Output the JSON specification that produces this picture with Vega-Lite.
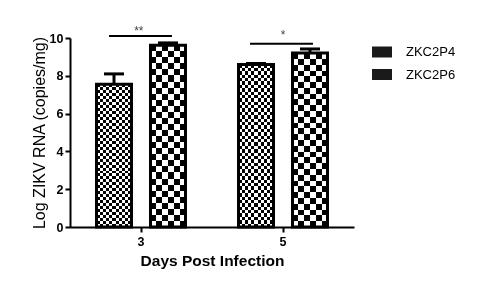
{
  "$schema": "https://vega.github.io/schema/vega-lite/v6.json",
  "width": 284,
  "height": 189,
  "autosize": "none",
  "padding": {"left": 70, "top": 38, "right": 132, "bottom": 62},
  "background": "white",
  "config": {
    "view": {"stroke": null},
    "font": "Liberation Sans",
    "axisY": {
      "grid": false, "tickSize": 5, "tickWidth": 2,
      "domainWidth": 2, "domainColor": "#000", "tickColor": "#000", "labelColor": "#000",
      "labelFont": "Liberation Sans", "labelFontWeight": "bold", "labelFontSize": 12.5,
      "labelPadding": 2, "titleFont": "Liberation Sans", "titleFontSize": 16,
      "titleFontWeight": "normal", "titleColor": "#000", "titlePadding": 2
    }
  },
  "datasets": {
    "bars": [
      {"day": "3", "series": "ZKC2P4", "mean": 7.55, "upper": 8.1},
      {"day": "3", "series": "ZKC2P6", "mean": 9.62, "upper": 9.74},
      {"day": "5", "series": "ZKC2P4", "mean": 8.6, "upper": 8.65},
      {"day": "5", "series": "ZKC2P6", "mean": 9.2, "upper": 9.42}
    ],
    "sig": [
      {"x1": 0.275, "x2": 0.718, "y": 10.1, "xt": 0.485, "yt": 10.38, "label": "**"},
      {"x1": 1.268, "x2": 1.711, "y": 9.7, "xt": 1.5, "yt": 10.17, "label": "*"}
    ]
  },
  "layer": [
    {
      "data": {"name": "bars"},
      "encoding": {
        "x": {
          "field": "day", "type": "nominal",
          "scale": {"domain": ["3", "5"], "paddingInner": 0, "paddingOuter": 0},
          "title": "Days Post Infection",
          "axis": {
            "labelAngle": 0, "tickSize": 5, "tickWidth": 2, "domainWidth": 2,
            "domainColor": "#000", "tickColor": "#000", "labelColor": "#000",
            "labelFont": "Liberation Sans", "labelFontWeight": "bold", "labelFontSize": 12.5,
            "labelPadding": 3, "titleFont": "Liberation Sans", "titleFontSize": 15.5,
            "titleFontWeight": "bold", "titleColor": "#000", "titlePadding": 6
          }
        },
        "xOffset": {
          "field": "series", "type": "nominal",
          "scale": {"domain": ["ZKC2P4", "ZKC2P6"], "paddingInner": 0.352, "paddingOuter": 0.491}
        },
        "y": {
          "field": "mean", "type": "quantitative",
          "scale": {"domain": [0, 10]},
          "title": "Log ZIKV RNA (copies/mg)",
          "axis": {"values": [0, 2, 4, 6, 8, 10], "title": "Log ZIKV RNA (copies/mg)"}
        }
      },
      "layer": [
        {
          "mark": {"type": "bar"},
          "encoding": {
            "fill": {
              "condition": {
                "test": "datum.series === 'ZKC2P4'",
                "value": {"gradient": "linear", "x1": 0, "y1": 0, "x2": 1, "y2": 0, "stops": [
                  {"offset": 0, "color": "#000"}, {"offset": 0.0909, "color": "#000"},
                  {"offset": 0.0909, "color": "#fff"}, {"offset": 0.1818, "color": "#fff"},
                  {"offset": 0.1818, "color": "#000"}, {"offset": 0.2727, "color": "#000"},
                  {"offset": 0.2727, "color": "#fff"}, {"offset": 0.3636, "color": "#fff"},
                  {"offset": 0.3636, "color": "#000"}, {"offset": 0.4545, "color": "#000"},
                  {"offset": 0.4545, "color": "#fff"}, {"offset": 0.5455, "color": "#fff"},
                  {"offset": 0.5455, "color": "#000"}, {"offset": 0.6364, "color": "#000"},
                  {"offset": 0.6364, "color": "#fff"}, {"offset": 0.7273, "color": "#fff"},
                  {"offset": 0.7273, "color": "#000"}, {"offset": 0.8182, "color": "#000"},
                  {"offset": 0.8182, "color": "#fff"}, {"offset": 0.9091, "color": "#fff"},
                  {"offset": 0.9091, "color": "#000"}, {"offset": 1, "color": "#000"}
                ]}
              },
              "value": {"gradient": "linear", "x1": 0, "y1": 0, "x2": 1, "y2": 0, "stops": [
                {"offset": 0, "color": "#000"}, {"offset": 0.1667, "color": "#000"},
                {"offset": 0.1667, "color": "#fff"}, {"offset": 0.3333, "color": "#fff"},
                {"offset": 0.3333, "color": "#000"}, {"offset": 0.5, "color": "#000"},
                {"offset": 0.5, "color": "#fff"}, {"offset": 0.6667, "color": "#fff"},
                {"offset": 0.6667, "color": "#000"}, {"offset": 0.8333, "color": "#000"},
                {"offset": 0.8333, "color": "#fff"}, {"offset": 1, "color": "#fff"}
              ]}
            }
          }
        },
        {
          "mark": {"type": "bar", "blend": "difference"},
          "encoding": {
            "fill": {
              "condition": {
                "test": "datum.series === 'ZKC2P4'",
                "value": {"gradient": "linear", "x1": 0, "y1": 0, "x2": 0, "y2": 1, "stops": [
                  {"offset": 0, "color": "#000"}, {"offset": 0.0208, "color": "#000"},
                  {"offset": 0.0208, "color": "#fff"}, {"offset": 0.0417, "color": "#fff"},
                  {"offset": 0.0417, "color": "#000"}, {"offset": 0.0625, "color": "#000"},
                  {"offset": 0.0625, "color": "#fff"}, {"offset": 0.0833, "color": "#fff"},
                  {"offset": 0.0833, "color": "#000"}, {"offset": 0.1042, "color": "#000"},
                  {"offset": 0.1042, "color": "#fff"}, {"offset": 0.125, "color": "#fff"},
                  {"offset": 0.125, "color": "#000"}, {"offset": 0.1458, "color": "#000"},
                  {"offset": 0.1458, "color": "#fff"}, {"offset": 0.1667, "color": "#fff"},
                  {"offset": 0.1667, "color": "#000"}, {"offset": 0.1875, "color": "#000"},
                  {"offset": 0.1875, "color": "#fff"}, {"offset": 0.2083, "color": "#fff"},
                  {"offset": 0.2083, "color": "#000"}, {"offset": 0.2292, "color": "#000"},
                  {"offset": 0.2292, "color": "#fff"}, {"offset": 0.25, "color": "#fff"},
                  {"offset": 0.25, "color": "#000"}, {"offset": 0.2708, "color": "#000"},
                  {"offset": 0.2708, "color": "#fff"}, {"offset": 0.2917, "color": "#fff"},
                  {"offset": 0.2917, "color": "#000"}, {"offset": 0.3125, "color": "#000"},
                  {"offset": 0.3125, "color": "#fff"}, {"offset": 0.3333, "color": "#fff"},
                  {"offset": 0.3333, "color": "#000"}, {"offset": 0.3542, "color": "#000"},
                  {"offset": 0.3542, "color": "#fff"}, {"offset": 0.375, "color": "#fff"},
                  {"offset": 0.375, "color": "#000"}, {"offset": 0.3958, "color": "#000"},
                  {"offset": 0.3958, "color": "#fff"}, {"offset": 0.4167, "color": "#fff"},
                  {"offset": 0.4167, "color": "#000"}, {"offset": 0.4375, "color": "#000"},
                  {"offset": 0.4375, "color": "#fff"}, {"offset": 0.4583, "color": "#fff"},
                  {"offset": 0.4583, "color": "#000"}, {"offset": 0.4792, "color": "#000"},
                  {"offset": 0.4792, "color": "#fff"}, {"offset": 0.5, "color": "#fff"},
                  {"offset": 0.5, "color": "#000"}, {"offset": 0.5208, "color": "#000"},
                  {"offset": 0.5208, "color": "#fff"}, {"offset": 0.5417, "color": "#fff"},
                  {"offset": 0.5417, "color": "#000"}, {"offset": 0.5625, "color": "#000"},
                  {"offset": 0.5625, "color": "#fff"}, {"offset": 0.5833, "color": "#fff"},
                  {"offset": 0.5833, "color": "#000"}, {"offset": 0.6042, "color": "#000"},
                  {"offset": 0.6042, "color": "#fff"}, {"offset": 0.625, "color": "#fff"},
                  {"offset": 0.625, "color": "#000"}, {"offset": 0.6458, "color": "#000"},
                  {"offset": 0.6458, "color": "#fff"}, {"offset": 0.6667, "color": "#fff"},
                  {"offset": 0.6667, "color": "#000"}, {"offset": 0.6875, "color": "#000"},
                  {"offset": 0.6875, "color": "#fff"}, {"offset": 0.7083, "color": "#fff"},
                  {"offset": 0.7083, "color": "#000"}, {"offset": 0.7292, "color": "#000"},
                  {"offset": 0.7292, "color": "#fff"}, {"offset": 0.75, "color": "#fff"},
                  {"offset": 0.75, "color": "#000"}, {"offset": 0.7708, "color": "#000"},
                  {"offset": 0.7708, "color": "#fff"}, {"offset": 0.7917, "color": "#fff"},
                  {"offset": 0.7917, "color": "#000"}, {"offset": 0.8125, "color": "#000"},
                  {"offset": 0.8125, "color": "#fff"}, {"offset": 0.8333, "color": "#fff"},
                  {"offset": 0.8333, "color": "#000"}, {"offset": 0.8542, "color": "#000"},
                  {"offset": 0.8542, "color": "#fff"}, {"offset": 0.875, "color": "#fff"},
                  {"offset": 0.875, "color": "#000"}, {"offset": 0.8958, "color": "#000"},
                  {"offset": 0.8958, "color": "#fff"}, {"offset": 0.9167, "color": "#fff"},
                  {"offset": 0.9167, "color": "#000"}, {"offset": 0.9375, "color": "#000"},
                  {"offset": 0.9375, "color": "#fff"}, {"offset": 0.9583, "color": "#fff"},
                  {"offset": 0.9583, "color": "#000"}, {"offset": 0.9792, "color": "#000"},
                  {"offset": 0.9792, "color": "#fff"}, {"offset": 1, "color": "#fff"}
                ]}
              },
              "value": {"gradient": "linear", "x1": 0, "y1": 0, "x2": 0, "y2": 1, "stops": [
                {"offset": 0, "color": "#000"}, {"offset": 0.0333, "color": "#000"},
                {"offset": 0.0333, "color": "#fff"}, {"offset": 0.0667, "color": "#fff"},
                {"offset": 0.0667, "color": "#000"}, {"offset": 0.1, "color": "#000"},
                {"offset": 0.1, "color": "#fff"}, {"offset": 0.1333, "color": "#fff"},
                {"offset": 0.1333, "color": "#000"}, {"offset": 0.1667, "color": "#000"},
                {"offset": 0.1667, "color": "#fff"}, {"offset": 0.2, "color": "#fff"},
                {"offset": 0.2, "color": "#000"}, {"offset": 0.2333, "color": "#000"},
                {"offset": 0.2333, "color": "#fff"}, {"offset": 0.2667, "color": "#fff"},
                {"offset": 0.2667, "color": "#000"}, {"offset": 0.3, "color": "#000"},
                {"offset": 0.3, "color": "#fff"}, {"offset": 0.3333, "color": "#fff"},
                {"offset": 0.3333, "color": "#000"}, {"offset": 0.3667, "color": "#000"},
                {"offset": 0.3667, "color": "#fff"}, {"offset": 0.4, "color": "#fff"},
                {"offset": 0.4, "color": "#000"}, {"offset": 0.4333, "color": "#000"},
                {"offset": 0.4333, "color": "#fff"}, {"offset": 0.4667, "color": "#fff"},
                {"offset": 0.4667, "color": "#000"}, {"offset": 0.5, "color": "#000"},
                {"offset": 0.5, "color": "#fff"}, {"offset": 0.5333, "color": "#fff"},
                {"offset": 0.5333, "color": "#000"}, {"offset": 0.5667, "color": "#000"},
                {"offset": 0.5667, "color": "#fff"}, {"offset": 0.6, "color": "#fff"},
                {"offset": 0.6, "color": "#000"}, {"offset": 0.6333, "color": "#000"},
                {"offset": 0.6333, "color": "#fff"}, {"offset": 0.6667, "color": "#fff"},
                {"offset": 0.6667, "color": "#000"}, {"offset": 0.7, "color": "#000"},
                {"offset": 0.7, "color": "#fff"}, {"offset": 0.7333, "color": "#fff"},
                {"offset": 0.7333, "color": "#000"}, {"offset": 0.7667, "color": "#000"},
                {"offset": 0.7667, "color": "#fff"}, {"offset": 0.8, "color": "#fff"},
                {"offset": 0.8, "color": "#000"}, {"offset": 0.8333, "color": "#000"},
                {"offset": 0.8333, "color": "#fff"}, {"offset": 0.8667, "color": "#fff"},
                {"offset": 0.8667, "color": "#000"}, {"offset": 0.9, "color": "#000"},
                {"offset": 0.9, "color": "#fff"}, {"offset": 0.9333, "color": "#fff"},
                {"offset": 0.9333, "color": "#000"}, {"offset": 0.9667, "color": "#000"},
                {"offset": 0.9667, "color": "#fff"}, {"offset": 1, "color": "#fff"}
              ]}
            }
          }
        },
        {
          "mark": {"type": "bar", "fill": "transparent", "stroke": "#000", "strokeWidth": 3}
        },
        {
          "mark": {"type": "bar", "opacity": 0},
          "encoding": {
            "color": {
              "field": "series", "type": "nominal",
              "scale": {"domain": ["ZKC2P4", "ZKC2P6"], "range": ["#1a1a1a", "#1a1a1a"]},
              "legend": {
                "title": null, "orient": "none", "legendX": 302, "legendY": 4, "padding": 0,
                "symbolType": "M-1,-0.55H1V0.55H-1Z", "symbolSize": 400,
                "symbolOpacity": 1, "symbolFillColor": "#1a1a1a", "symbolStrokeWidth": 0,
                "labelFont": "Liberation Sans", "labelFontSize": 13, "labelColor": "#000",
                "labelOffset": 14, "rowPadding": 5.5
              }
            }
          }
        },
        {
          "mark": {"type": "rule", "strokeWidth": 3, "color": "#000"},
          "encoding": {"y2": {"field": "upper"}}
        },
        {
          "mark": {"type": "tick", "size": 20, "thickness": 3, "color": "#000", "opacity": 1},
          "encoding": {"y": {"field": "upper", "type": "quantitative"}}
        }
      ]
    },
    {
      "data": {"name": "sig"},
      "layer": [
        {
          "mark": {"type": "rule", "strokeWidth": 2, "color": "#000"},
          "encoding": {
            "x": {"field": "x1", "type": "quantitative", "scale": {"domain": [0, 2]}, "axis": null},
            "x2": {"field": "x2"},
            "y": {"field": "y", "type": "quantitative", "axis": {"values": [0, 2, 4, 6, 8, 10], "title": "Log ZIKV RNA (copies/mg)"}}
          }
        },
        {
          "mark": {"type": "text", "fontSize": 12, "color": "#444", "baseline": "middle", "font": "Liberation Sans"},
          "encoding": {
            "x": {"field": "xt", "type": "quantitative", "scale": {"domain": [0, 2]}, "axis": null},
            "y": {"field": "yt", "type": "quantitative", "axis": {"values": [0, 2, 4, 6, 8, 10], "title": "Log ZIKV RNA (copies/mg)"}},
            "text": {"field": "label"}
          }
        }
      ]
    }
  ],
  "resolve": {"scale": {"x": "independent"}}
}
